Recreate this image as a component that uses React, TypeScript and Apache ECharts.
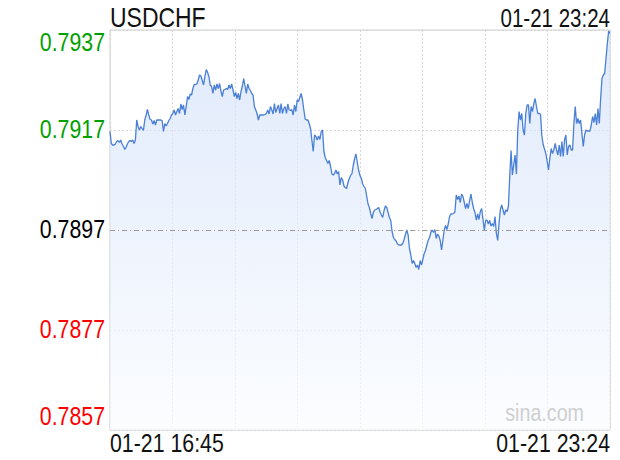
import React, { useEffect, useRef } from "react";
import * as echarts from "echarts";

const symbolName = "USDCHF";
const lastTime = "01-21 23:24";
const timeLabels = ["01-21 16:45", "01-21 23:24"];
const yTicks = [0.7857, 0.7877, 0.7897, 0.7917, 0.7937];
const prevClose = 0.7897;
const watermark = "sina.com";

const prices = [
  0.79167, 0.79143, 0.7914, 0.7914, 0.79142, 0.79147, 0.79149, 0.79145, 0.7915, 0.79142,
  0.79138, 0.79131, 0.79135, 0.79142, 0.79147, 0.79149, 0.79147, 0.7915, 0.79143, 0.7915,
  0.7919, 0.79177, 0.7917, 0.79177, 0.79173, 0.79169, 0.7919, 0.792, 0.79211, 0.792,
  0.79191, 0.7919, 0.79182, 0.79189, 0.7918, 0.7919, 0.7919, 0.7919, 0.7919, 0.79189,
  0.79167, 0.79183, 0.79178, 0.79183, 0.79189, 0.79193, 0.792, 0.79203, 0.7921, 0.792,
  0.79207, 0.79213, 0.79203, 0.79222, 0.79211, 0.7922, 0.792, 0.79217, 0.79237, 0.79231,
  0.79242, 0.7924, 0.79253, 0.79261, 0.79261, 0.79262, 0.7927, 0.7928,
  0.79278, 0.79269, 0.7926, 0.79277, 0.79291, 0.79285, 0.79277, 0.7926, 0.79257, 0.79243,
  0.7926, 0.7925, 0.79262, 0.79253, 0.79263, 0.79247, 0.79237, 0.7925, 0.79251, 0.79253,
  0.79251, 0.7926, 0.79253, 0.79262, 0.7925, 0.79237, 0.79245, 0.79233, 0.79243, 0.7923,
  0.79247, 0.79258, 0.79273, 0.79258, 0.79243, 0.79262, 0.79253, 0.79249, 0.79243, 0.7924,
  0.79217, 0.7921, 0.79203, 0.7919, 0.792, 0.792, 0.792, 0.792, 0.79201, 0.79203,
  0.7921, 0.79202, 0.79217, 0.7921, 0.79202, 0.79223, 0.79205, 0.79213, 0.7922, 0.79203,
  0.79223, 0.79203, 0.79213, 0.79217, 0.79203, 0.79222, 0.7921, 0.79209, 0.79211, 0.792,
  0.7922, 0.79207,
  0.7923, 0.79227, 0.79235, 0.79243, 0.7923, 0.7921, 0.79192, 0.7919, 0.7919, 0.79183,
  0.79173, 0.7915, 0.79127, 0.7916, 0.79157, 0.7915, 0.79158, 0.79151, 0.79167, 0.7917,
  0.79127, 0.79115, 0.79109, 0.79103, 0.79109, 0.79097, 0.79082, 0.7908, 0.79083, 0.7909,
  0.79082, 0.79087, 0.7906, 0.79075, 0.7907, 0.79058, 0.79055, 0.79053, 0.79065, 0.79073,
  0.79079, 0.79083, 0.791, 0.79113, 0.79122, 0.79105, 0.79089, 0.79079, 0.79073, 0.79062,
  0.79057, 0.79053, 0.79038, 0.79022, 0.79015, 0.79003, 0.78993, 0.79005, 0.7901, 0.79011,
  0.79013, 0.79015, 0.79006, 0.79, 0.78995, 0.79009, 0.79018,
  0.79015, 0.79005, 0.78995, 0.78989, 0.78967, 0.78955, 0.78951, 0.78948, 0.78942, 0.7894,
  0.7894, 0.7894, 0.78943, 0.78951, 0.78961, 0.7897, 0.7896, 0.78933, 0.7892, 0.78903,
  0.78909, 0.78903, 0.78895, 0.789, 0.78891, 0.78909, 0.789, 0.78911, 0.78923, 0.78929,
  0.7894, 0.78949, 0.78955, 0.78965, 0.7897, 0.78965, 0.78971, 0.78953, 0.78962, 0.78958,
  0.78949, 0.7893, 0.7895, 0.7897, 0.78979, 0.78971, 0.78982, 0.78997, 0.79002, 0.79002,
  0.79003, 0.79006, 0.7904, 0.79031, 0.79038, 0.79025, 0.79042, 0.79037, 0.79025, 0.79013,
  0.79023, 0.79013, 0.79029, 0.79042, 0.79025, 0.79013, 0.79005, 0.7899, 0.79002, 0.78991,
  0.79007, 0.79013, 0.78991, 0.7897, 0.78989, 0.7899, 0.78982, 0.78989, 0.78978,
  0.78983, 0.78977, 0.78997, 0.78963, 0.78949, 0.78983, 0.79011, 0.7902, 0.7901, 0.79,
  0.7901, 0.79007, 0.79017, 0.79077, 0.79129, 0.7908, 0.791, 0.7912, 0.79082, 0.7917,
  0.79207, 0.7919, 0.79203, 0.7917, 0.7916, 0.79203, 0.7922, 0.7922, 0.79183, 0.79217,
  0.79207, 0.79223, 0.79233, 0.79217, 0.79203, 0.79203, 0.79202,
  0.79159, 0.79141, 0.79132, 0.79123, 0.79107, 0.7909, 0.79113, 0.79133, 0.79123, 0.7913,
  0.79143, 0.7913, 0.7912, 0.7914, 0.79117, 0.79147, 0.79117, 0.7915, 0.7916, 0.7912,
  0.79137, 0.7914, 0.7913, 0.7913, 0.79183, 0.79217, 0.79183, 0.79193, 0.79183, 0.7919,
  0.79163, 0.79137, 0.7916, 0.7917, 0.79168, 0.79168, 0.79168, 0.7918, 0.79197, 0.79185,
  0.79203, 0.7918, 0.79213, 0.79183, 0.79233, 0.79273, 0.7928, 0.79283, 0.79313, 0.79343,
  0.79368, 0.79363,
];

const FONT = "'Liberation Sans', Arial, sans-serif";
const NARROW = 0.82;

export default function App() {
  const ref = useRef<HTMLDivElement>(null);

  useEffect(() => {
    if (!ref.current) return;
    const chart = echarts.init(ref.current, undefined, { renderer: "svg" });
    const lastIdx = prices.length - 1;
    const yMin = yTicks[0];
    const yMax = yTicks[yTicks.length - 1];
    const yInterval = +(yTicks[1] - yTicks[0]).toFixed(4);

    chart.setOption({
      animation: false,
      backgroundColor: "#ffffff",
      grid: {
        left: 110,
        right: 10,
        top: 30,
        bottom: 30,
        show: true,
        borderColor: "#cccccc",
        borderWidth: 1,
        backgroundColor: "transparent",
      },
      xAxis: {
        type: "value",
        min: 0,
        max: lastIdx,
        interval: lastIdx / 8,
        axisLine: { show: false },
        axisTick: { show: false },
        axisLabel: { show: false },
        splitLine: {
          show: true,
          lineStyle: { color: "#d8d8d8", type: [2, 2], width: 1 },
        },
      },
      yAxis: {
        type: "value",
        min: yMin,
        max: yMax,
        interval: yInterval,
        axisLine: { show: false },
        axisTick: { show: false },
        axisLabel: { show: false },
        splitLine: {
          show: true,
          lineStyle: { color: "#d8d8d8", type: [2, 2], width: 1 },
        },
      },
      series: [
        {
          type: "line",
          data: prices.map((p, i) => [i, p]),
          showSymbol: false,
          symbol: "none",
          lineStyle: { color: "#4a7fd6", width: 1.3 },
          areaStyle: {
            origin: "start",
            color: new echarts.graphic.LinearGradient(0, 0, 0, 1, [
              { offset: 0, color: "#d3e1fa" },
              { offset: 1, color: "#fafcff" },
            ]),
          },
          markLine: {
            silent: true,
            symbol: "none",
            precision: 4,
            label: { show: false },
            lineStyle: { color: "#9a9a9a", type: [5, 3, 1, 3], width: 1 },
            data: [{ yAxis: prevClose }],
          },
          z: 3,
        },
      ],
    });

    // Axis labels drawn as narrow (horizontally condensed) texts at positions from the axes' scales.
    const graphics: any[] = [];
    const txt = (text: string, x: number, y: number, size: number, fill: string, align: string) => ({
      type: "text",
      x,
      y,
      scaleX: NARROW,
      z: 100,
      silent: true,
      style: {
        text,
        fontSize: size,
        fontFamily: FONT,
        fill,
        align,
        verticalAlign: "middle",
      },
    });

    const xLeft = chart.convertToPixel({ xAxisIndex: 0 }, 0) as number;
    const xRight = chart.convertToPixel({ xAxisIndex: 0 }, lastIdx) as number;
    const yTop = chart.convertToPixel({ yAxisIndex: 0 }, yMax) as number;
    const yBottom = chart.convertToPixel({ yAxisIndex: 0 }, yMin) as number;

    yTicks.forEach((v, i) => {
      const py = chart.convertToPixel({ yAxisIndex: 0 }, v) as number;
      let y = py - 1;
      if (i === yTicks.length - 1) y = py + 12;
      if (i === 0) y = py - 14;
      const color =
        v > prevClose + 1e-7 ? "#00a000" : v < prevClose - 1e-7 ? "#ff0000" : "#000000";
      graphics.push(txt(v.toFixed(4), xLeft - 5, y, 26, color, "right"));
    });

    graphics.push(txt(timeLabels[0], xLeft, yBottom + 13, 26, "#111111", "left"));
    graphics.push(txt(timeLabels[1], xRight, yBottom + 13, 26, "#111111", "right"));
    graphics.push(txt(symbolName, xLeft, yTop - 13, 28, "#111111", "left"));
    graphics.push(txt(lastTime, xRight, yTop - 12, 25, "#111111", "right"));
    graphics.push(txt(watermark, xRight - 26, yBottom - 17, 24, "#cfcfcf", "right"));

    chart.setOption({ graphic: graphics });

    return () => chart.dispose();
  }, []);

  return (
    <div
      ref={ref}
      style={{ position: "fixed", left: 0, top: 0, width: 620, height: 460 }}
    />
  );
}
